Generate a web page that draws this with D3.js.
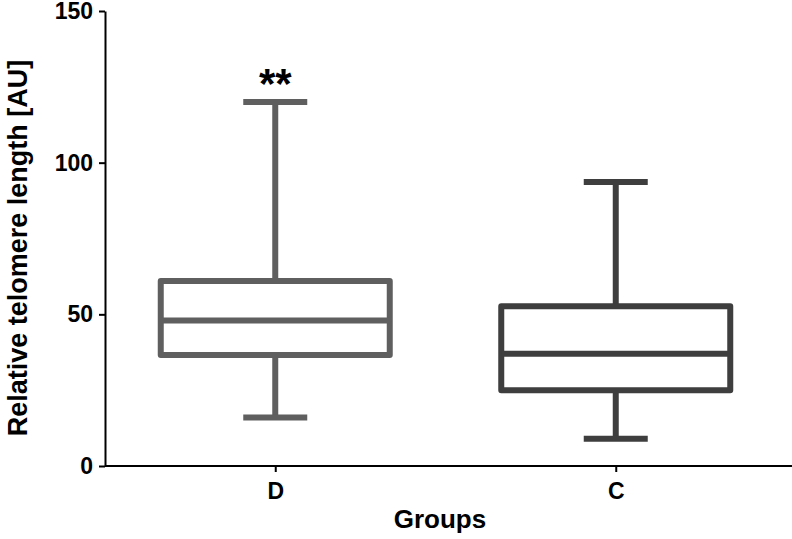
<!DOCTYPE html>
<html>
<head>
<meta charset="utf-8">
<script src="https://cdn.jsdelivr.net/npm/d3@7"></script>
<style>
  html, body { margin: 0; padding: 0; background: #fff; }
  svg { display: block; font-family: "Liberation Sans", Arial, sans-serif; }
</style>
</head>
<body>
<svg id="chart" width="792" height="539"></svg>
<script>
const groups = ["D", "C"];
const mins = [16, 9];
const q1s = [36.6, 25];
const medians = [48, 37];
const q3s = [61, 52.7];
const maxs = [120, 93.6];
const marks = ["**", ""];
const boxColors = ["#5f5f5f", "#3e3e3e"];
const yTicks = [0, 50, 100, 150];

(function () {
const svg = d3.select("#chart");
const mLeft = 105, mRight = 792, mTop = 11, mBottom = 466;

const y = d3.scaleLinear().domain([0, 150]).range([mBottom, mTop]);
const x = d3.scalePoint().domain(groups).range([mLeft, mRight - 6]).padding(0.5);

const boxW = 229, capW = 64;

const data = groups.map((g, i) => ({
  g, min: mins[i], q1: q1s[i], med: medians[i], q3: q3s[i], max: maxs[i],
  mark: marks[i], color: boxColors[i]
}));

const gBoxes = svg.append("g");
data.forEach(d => {
  const cx = x(d.g);
  const g = gBoxes.append("g")
    .attr("stroke", d.color).attr("stroke-width", 6).attr("fill", "none")
    .attr("stroke-linejoin", "round");
  g.append("line").attr("x1", cx).attr("x2", cx).attr("y1", y(d.max)).attr("y2", y(d.q3));
  g.append("line").attr("x1", cx).attr("x2", cx).attr("y1", y(d.q1)).attr("y2", y(d.min));
  g.append("line").attr("x1", cx - capW / 2).attr("x2", cx + capW / 2).attr("y1", y(d.max)).attr("y2", y(d.max));
  g.append("line").attr("x1", cx - capW / 2).attr("x2", cx + capW / 2).attr("y1", y(d.min)).attr("y2", y(d.min));
  g.append("rect").attr("x", cx - boxW / 2).attr("width", boxW)
    .attr("y", y(d.q3)).attr("height", y(d.q1) - y(d.q3)).attr("fill", "#fff");
  g.append("line").attr("x1", cx - boxW / 2).attr("x2", cx + boxW / 2).attr("y1", y(d.med)).attr("y2", y(d.med));
  if (d.mark) {
    svg.append("text").attr("x", cx).attr("y", y(d.max) - 4)
      .attr("text-anchor", "middle").attr("font-size", 42).attr("font-weight", "bold")
      .attr("fill", "#000").text(d.mark);
  }
});

const yAxis = svg.append("g").attr("transform", `translate(${mLeft},0)`)
  .call(d3.axisLeft(y).tickValues(yTicks).tickSize(6).tickPadding(6).tickSizeOuter(0));
yAxis.select(".domain").attr("stroke", "#000").attr("stroke-width", 2);
yAxis.selectAll(".tick line").attr("stroke", "#000").attr("stroke-width", 2);
yAxis.selectAll(".tick text").attr("font-size", 23).attr("font-weight", "bold")
  .attr("fill", "#000").attr("font-family", "Liberation Sans, Arial, sans-serif");

const xAxis = svg.append("g").attr("transform", `translate(0,${mBottom})`)
  .call(d3.axisBottom(x).tickSize(6).tickPadding(11).tickSizeOuter(0));
xAxis.select(".domain").attr("stroke", "#000").attr("stroke-width", 2)
  .attr("d", `M${mLeft},0H${mRight}`);
xAxis.selectAll(".tick line").attr("stroke", "#000").attr("stroke-width", 2);
xAxis.selectAll(".tick text").attr("font-size", 23).attr("font-weight", "bold")
  .attr("fill", "#000").attr("font-family", "Liberation Sans, Arial, sans-serif");

svg.append("text").attr("x", 440).attr("y", 528).attr("text-anchor", "middle")
  .attr("font-size", 26).attr("font-weight", "bold").attr("fill", "#000").text("Groups");
svg.append("text").attr("transform", "translate(27,248) rotate(-90)")
  .attr("text-anchor", "middle").attr("font-size", 27).attr("font-weight", "bold")
  .attr("fill", "#000").text("Relative telomere length [AU]");
})();
</script>
</body>
</html>
